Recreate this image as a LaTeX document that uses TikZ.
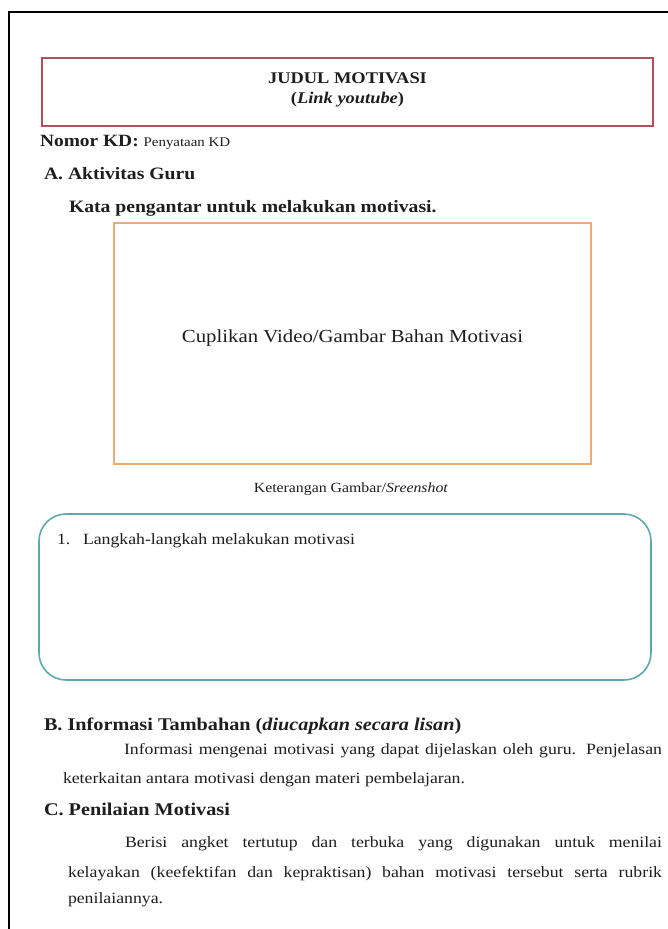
\documentclass[tikz,border=0pt]{standalone}
\usepackage{fontspec}
\setmainfont[FakeStretch=1.13]{Liberation Serif}
\definecolor{redbox}{HTML}{B0505C}
\definecolor{orangebox}{HTML}{E8AC78}
\definecolor{tealbox}{HTML}{5FA8AE}
\definecolor{ink}{HTML}{1E1E1E}
\begin{document}
\begin{tikzpicture}[x=1pt,y=-1pt,
  every node/.style={inner sep=0pt,outer sep=0pt,text=ink},
  head/.style={anchor=base west,font=\fontsize{17.4}{20}\selectfont\bfseries},
  headbig/.style={anchor=base west,font=\fontsize{17.9}{20}\selectfont\bfseries},
  body/.style={anchor=base west,font=\fontsize{15.7}{18}\selectfont},
  small/.style={font=\fontsize{14}{16}\selectfont},
  framebox/.style={draw,line width=1.6pt}]
\useasboundingbox (0,0) rectangle (668,929);
\fill[white] (0,0) rectangle (668,929);
% outer frame (top and left only)
\coordinate (ftr) at (668,12);
\coordinate (ftl) at (9,12);
\coordinate (fbl) at (9,929);
\draw[line width=2pt,black] (ftr) -- (ftl) -- (fbl);
% title box
\node[framebox,draw=redbox,minimum width=611pt,minimum height=68pt] (title) at (347.5,92) {};
\node[anchor=base,font=\fontsize{16.3}{19}\selectfont\bfseries] (judul) at (347.5,83) {JUDUL MOTIVASI};
\node[anchor=base,font=\fontsize{16.3}{19}\selectfont\bfseries] (link) at (347.5,103) {(\textit{Link youtube})};
% KD
\node[head] (kd) at (40,146) {\fontsize{17.2}{20}\selectfont Nomor KD: \fontsize{13.2}{16}\selectfont\mdseries Penyataan KD};
\node[head] (secA) at (44,179) {A. Aktivitas Guru};
\node[head] (kata) at (69,212) {Kata pengantar untuk melakukan motivasi.};
% picture box
\node[framebox,draw=orangebox,minimum width=477pt,minimum height=241pt] (pic) at (352.5,343.5) {};
\node[anchor=base,font=\fontsize{18.4}{21}\selectfont] (cup) at (352.5,342) {Cuplikan Video/Gambar Bahan Motivasi};
\node[anchor=base,small] (ket) at (351,492) {Keterangan Gambar/\textit{Sreenshot}};
% steps box
\node[framebox,draw=tealbox,rounded corners=27pt,minimum width=612pt,minimum height=166pt] (steps) at (345,597) {};
\node[body] (num) at (57,544) {1.};
\node[body] (langkah) at (83,544) {Langkah-langkah melakukan motivasi};
% section B
\node[headbig] (secB) at (44,730) {B. Informasi Tambahan (\textit{diucapkan secara lisan})};
\node[body] (b1) at (124,754) {\makebox[538pt][s]{Informasi mengenai motivasi yang dapat dijelaskan oleh guru. Penjelasan}};
\node[body] (b2) at (63,783) {keterkaitan antara motivasi dengan materi pembelajaran.};
% section C
\node[headbig] (secC) at (44,815) {C. Penilaian Motivasi};
\node[body] (c1) at (125,847) {\makebox[537pt][s]{Berisi angket tertutup dan terbuka yang digunakan untuk menilai}};
\node[body] (c2) at (68,877) {\makebox[594pt][s]{kelayakan (keefektifan dan kepraktisan) bahan motivasi tersebut serta rubrik}};
\node[body] (c3) at (68,903) {penilaiannya.};
\end{tikzpicture}
\end{document}
